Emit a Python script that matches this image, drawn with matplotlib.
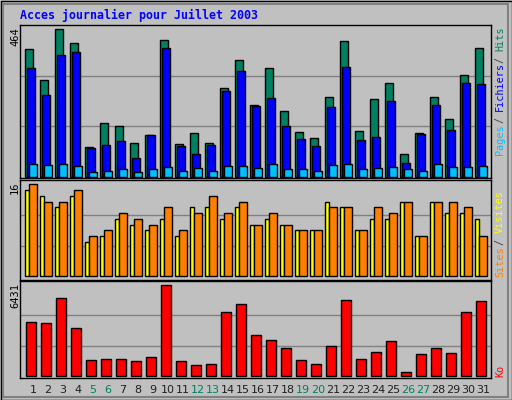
import matplotlib
matplotlib.use("Agg")
import matplotlib.pyplot as plt
from matplotlib.patches import Rectangle
import numpy as np

days = list(range(1, 32))
weekends = [5, 6, 12, 13, 19, 20, 26, 27]
hits = [391, 296, 453, 410, 90, 164, 155, 105, 127, 419, 99, 133, 102, 271, 357, 219,
        333, 201, 136, 118, 244, 416, 139, 238, 287, 69, 133, 244, 176, 311, 394]
files = [333, 250, 373, 382, 87, 96, 109, 56, 127, 394, 93, 69, 96, 262, 324, 216,
         241, 155, 115, 93, 213, 336, 112, 121, 234, 43, 130, 219, 142, 287, 284]
pages = [38, 35, 38, 32, 13, 19, 23, 13, 23, 29, 16, 26, 19, 32, 32, 26,
         38, 23, 23, 19, 35, 38, 23, 26, 29, 23, 19, 38, 29, 29, 32]
sites = [15, 14, 12, 14, 6, 7, 10, 9, 8, 10, 7, 12, 12, 10, 12, 9,
         10, 9, 8, 8, 13, 12, 8, 10, 10, 13, 7, 13, 11, 11, 10]
visits = [16, 13, 13, 15, 7, 8, 11, 10, 9, 12, 8, 11, 14, 11, 13, 9,
          11, 9, 8, 8, 12, 12, 8, 12, 11, 13, 7, 13, 13, 12, 7]
ko = [3826, 3755, 5515, 3403, 1150, 1220, 1220, 1080, 1361, 6431, 1080, 728, 868, 4530,
      5093, 2910, 2558, 1995, 1150, 798, 2136, 5375, 1220, 1713, 2488, 235, 1572, 1995,
      1643, 4530, 5304]
max_hits, max_visits, max_ko = 464, 16, 6431

W, H = 512, 400
BG = "#c0c0c0"
fig = plt.figure(figsize=(W / 100, H / 100), dpi=100, facecolor=BG)
MONO = "DejaVu Sans Mono"

def ax_px(x0, y0, x1, y1):
    return fig.add_axes([x0 / W, 1 - y1 / H, (x1 - x0) / W, (y1 - y0) / H])

fig.patches.append(Rectangle((0.5 / W, 0.5 / H), (W - 1) / W, (H - 1) / H, transform=fig.transFigure,
                             fill=False, edgecolor="black", lw=1))
fig.patches.append(Rectangle((3 / W, 3 / H), (W - 7) / W, (H - 7) / H, transform=fig.transFigure,
                             fill=False, edgecolor="#808080", lw=1.5))

x = np.array(days, dtype=float)
XL = (0.644, 32.04)

def style(ax, ymax, ylim):
    ax.set_facecolor(BG)
    ax.set_xlim(*XL)
    ax.set_ylim(*ylim)
    for g in (ymax / 3, 2 * ymax / 3):
        ax.axhline(g, color="#808080", lw=1, zorder=0)
    ax.set_xticks([])
    ax.set_yticks([])
    for s in ax.spines.values():
        s.set_color("black")
        s.set_linewidth(1)

ec = dict(edgecolor="black", linewidth=1, align="edge", zorder=2)

ax1 = ax_px(20, 25, 491, 178)
style(ax1, max_hits, (-4, 466))
ax1.bar(x, hits, 0.489, color="#008060", **ec)
ax1.bar(x + 0.111, files, 0.51, color="#0000ff", **ec)
ax1.bar(x + 0.244, pages, 0.51, color="#00c0ff", **ec)

ax2 = ax_px(20, 180, 491, 280)
style(ax2, max_visits, (-0.64, 16.75))
ax2.bar(x, sites, 0.267, color="#ffff00", **ec)
ax2.bar(x + 0.267, visits, 0.489, color="#ff8000", **ec)

ax3 = ax_px(20, 281, 491, 378)
style(ax3, max_ko, (-162, 6733))
ax3.bar(x + 0.067, ko, 0.667, color="#ff0000", **ec)
for d in days:
    ax3.text(d + 0.51, -0.12, str(d), transform=ax3.get_xaxis_transform(), ha="center", va="center",
             fontsize=8, color="#008060" if d in weekends else "#202020")

fig.text(20 / W, 1 - 15 / H, "Acces journalier pour Juillet 2003", color="#0000ff",
         fontsize=8.4, fontweight="bold", family=MONO, va="center", ha="left")

for ytop, lab in [(27, str(max_hits)), (181, str(max_visits)), (283, str(max_ko))]:
    fig.text(15 / W, 1 - ytop / H, lab, rotation=90, fontsize=7.5, family=MONO,
             ha="center", va="top", color="black")

def vlabel(ybottom, segs):
    adv = 5.45
    y = ybottom
    for i, (txt, col) in enumerate(segs):
        if i > 0:
            fig.text(500 / W, 1 - (y - 1.5 * adv) / H, "/", rotation=90, fontsize=7.3, family=MONO,
                     ha="center", va="center", color="#404040")
            y -= 3 * adv
        fig.text(500 / W, 1 - y / H, txt, rotation=90, fontsize=7.3, family=MONO,
                 ha="center", va="bottom", color=col)
        y -= adv * len(txt)

vlabel(155, [("Pages", "#00c0ff"), ("Fichiers", "#0000ff"), ("Hits", "#008060")])
vlabel(277, [("Sites", "#ff8000"), ("Visites", "#ffff00")])
vlabel(377, [("Ko", "#ff0000")])

fig.savefig("out.png", dpi=100, facecolor=BG)
